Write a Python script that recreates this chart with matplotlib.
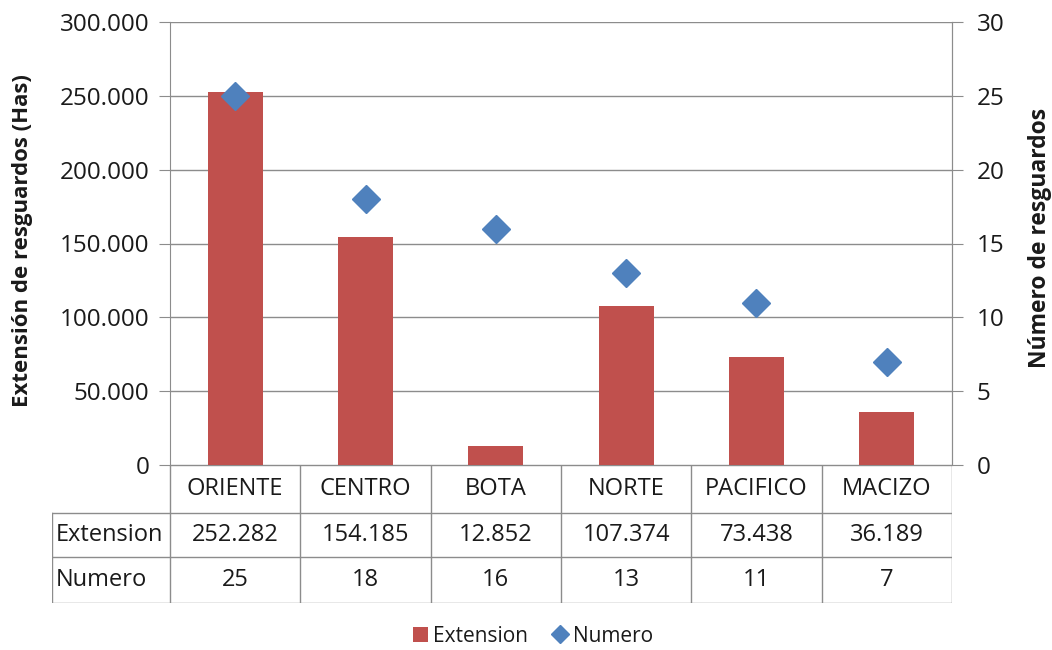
import matplotlib
matplotlib.use("Agg")
import matplotlib.pyplot as plt
from matplotlib.ticker import FuncFormatter, MultipleLocator
from matplotlib.lines import Line2D
from matplotlib.patches import Patch

categories = ["ORIENTE", "CENTRO", "BOTA", "NORTE", "PACIFICO", "MACIZO"]
extension = [252282, 154185, 12852, 107374, 73438, 36189]
numero = [25, 18, 16, 13, 11, 7]
extension_labels = ["252.282", "154.185", "12.852", "107.374", "73.438", "36.189"]
row_labels = ["Extension", "Numero"]

plt.rcParams['font.family'] = ['Open Sans', 'DejaVu Sans']
BAR = "#C0504D"
DIA = "#4F81BD"
GRID = "#8C8C8C"
TXT = "#1a1a1a"

W, H = 1052, 650
fig = plt.figure(figsize=(W / 100, H / 100), dpi=100)

def px(x0, y0, x1, y1):
    return [x0 / W, 1 - y1 / H, (x1 - x0) / W, (y1 - y0) / H]

AX_L, AX_T, AX_R, AX_B = 170, 22, 952, 465
ax = fig.add_axes(px(AX_L, AX_T, AX_R, AX_B))
n = len(categories)
xs = list(range(n))
ax.bar(xs, extension, width=0.42, color=BAR, zorder=2)
ax.set_xlim(-0.5, n - 0.5)
ax.set_ylim(0, 300000)
ax.yaxis.set_major_locator(MultipleLocator(50000))
ax.yaxis.set_major_formatter(FuncFormatter(lambda v, p: f"{int(v):,}".replace(",", ".")))
ax.grid(axis='y', color=GRID, linewidth=1, zorder=0)
ax.set_xticks([])
for s in ["top", "bottom"]:
    ax.spines[s].set_visible(False)
for s in ["left", "right"]:
    ax.spines[s].set_color(GRID)
ax.tick_params(axis='y', length=8, color=GRID, labelsize=17.5, pad=7, labelcolor=TXT)
ax.set_ylabel("Extensión de resguardos (Has)", fontsize=16, fontweight='bold', color=TXT)
ax.yaxis.set_label_coords((33 - AX_L) / (AX_R - AX_L), (AX_B - 241) / (AX_B - AX_T))

ax2 = ax.twinx()
ax2.plot(xs, numero, linestyle='none', marker='D', markersize=14, color=DIA, zorder=3)
ax2.set_ylim(0, 30)
ax2.yaxis.set_major_locator(MultipleLocator(5))
for s in ["top", "bottom", "left"]:
    ax2.spines[s].set_visible(False)
ax2.spines["right"].set_color(GRID)
ax2.tick_params(axis='y', length=8, color=GRID, labelsize=17.5, pad=10, labelcolor=TXT)
ax2.set_ylabel("Número de resguardos", fontsize=16.5, fontweight='bold', color=TXT)
ax2.yaxis.set_label_coords((1028 - AX_L) / (AX_R - AX_L), (AX_B - 238) / (AX_B - AX_T))

# data table
cw = (AX_R - AX_L) / n
left_w = (AX_L - 52) / cw
tab = fig.add_axes(px(52, 465, 952, 603))
tab.set_xlim(-0.5 - left_w, n - 0.5)
tab.set_ylim(3, 0)
tab.axis('off')
rows_y = [0, 1.04, 2.0, 3.0]
lc = GRID
lw = 1
tab.plot([-0.5, n - 0.5], [rows_y[0]] * 2, color=lc, lw=lw)
for y in rows_y[1:]:
    tab.plot([-0.5 - left_w, n - 0.5], [y, y], color=lc, lw=lw)
for i in range(n + 1):
    tab.plot([i - 0.5, i - 0.5], [rows_y[0], rows_y[3]], color=lc, lw=lw)
tab.plot([-0.5 - left_w] * 2, [rows_y[1], rows_y[3]], color=lc, lw=lw)
fs = 17
for i, c in enumerate(categories):
    tab.text(i, (rows_y[0] + rows_y[1]) / 2, c, ha='center', va='center', fontsize=fs, color=TXT)
    tab.text(i, (rows_y[1] + rows_y[2]) / 2, extension_labels[i], ha='center', va='center', fontsize=fs, color=TXT)
    tab.text(i, (rows_y[2] + rows_y[3]) / 2, str(numero[i]), ha='center', va='center', fontsize=fs, color=TXT)
tab.text(-0.5 - left_w + 0.03, (rows_y[1] + rows_y[2]) / 2, row_labels[0], ha='left', va='center', fontsize=fs, color=TXT)
tab.text(-0.5 - left_w + 0.03, (rows_y[2] + rows_y[3]) / 2, row_labels[1], ha='left', va='center', fontsize=fs, color=TXT)

handles = [Patch(facecolor=BAR, label="Extension"),
           Line2D([], [], linestyle='none', marker='D', markersize=9, color=DIA, label="Numero")]
fig.legend(handles=handles, loc='center', bbox_to_anchor=(533 / W, 1 - 636 / H), ncol=2,
           frameon=False, fontsize=15, handlelength=0.7, handleheight=0.7,
           handletextpad=0.25, columnspacing=1.2, labelcolor=TXT)

fig.savefig("out.png", dpi=100)
